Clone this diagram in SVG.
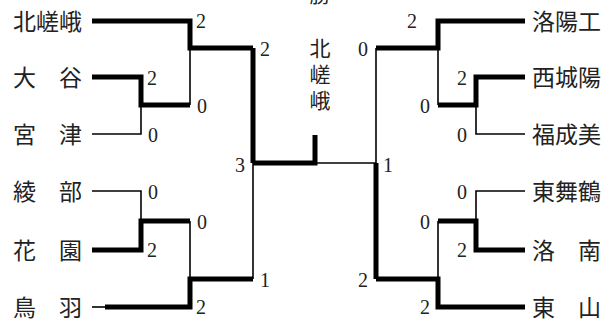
<svg xmlns="http://www.w3.org/2000/svg" width="614" height="322" viewBox="0 0 614 322">
<style>
.thick{fill:none;stroke:#000;stroke-width:5;stroke-linejoin:miter}
.thin{fill:none;stroke:#000;stroke-width:1.6}
.name{font-family:"Noto Sans CJK JP","Noto Sans CJK SC",sans-serif;font-size:23px;fill:#222}
.vt{font-family:"Noto Sans CJK JP","Noto Sans CJK SC",sans-serif;font-size:21px;fill:#222;text-anchor:middle}
.num{font-family:"Liberation Serif",serif;font-size:20px;fill:#222}
</style>
<rect width="614" height="322" fill="#fff"/>
<g id="connectors">
<path class="thick" d="M92,21 H190 V48 H253"/>
<path class="thick" d="M92,77 H141 V105 H190"/>
<path class="thin" d="M92,134 H141 V105"/>
<path class="thin" d="M190,48 V105"/>
<path class="thin" d="M92,191 H141 V221"/>
<path class="thick" d="M92,250 H141 V221 H190"/>
<path class="thin" d="M190,221 V279"/>
<path class="thin" d="M92,307 H106"/>
<path class="thick" d="M105,307 H190 V279 H253"/>
<path class="thick" d="M253,48 V163"/>
<path class="thin" d="M253,163 V279"/>
<path class="thick" d="M253,163 H315 V135"/>
<path class="thin" d="M315,163 H376"/>
<path class="thin" d="M376,48 V163"/>
<path class="thick" d="M376,163 V279"/>
<path class="thick" d="M525,21 H438 V48 H376"/>
<path class="thick" d="M525,77 H476 V105 H438"/>
<path class="thin" d="M525,134 H476 V105"/>
<path class="thin" d="M438,48 V105"/>
<path class="thin" d="M525,191 H476 V221"/>
<path class="thick" d="M525,250 H476 V221 H438"/>
<path class="thin" d="M438,221 V279"/>
<path class="thick" d="M525,307 H438 V279 H376"/>
</g>
<g id="scores">
<text class="num" x="196" y="28">2</text>
<text class="num" x="147" y="85">2</text>
<text class="num" x="197" y="113">0</text>
<text class="num" x="148" y="142">0</text>
<text class="num" x="148" y="199">0</text>
<text class="num" x="197" y="229">0</text>
<text class="num" x="147" y="257">2</text>
<text class="num" x="196" y="314">2</text>
<text class="num" x="260" y="56">2</text>
<text class="num" x="260" y="287">1</text>
<text class="num" x="235" y="172">3</text>
<text class="num" x="383" y="172">1</text>
<text class="num" x="358" y="56">0</text>
<text class="num" x="407" y="28">2</text>
<text class="num" x="457" y="85">2</text>
<text class="num" x="420" y="113">0</text>
<text class="num" x="457" y="142">0</text>
<text class="num" x="457" y="199">0</text>
<text class="num" x="420" y="229">0</text>
<text class="num" x="457" y="257">2</text>
<text class="num" x="358" y="287">2</text>
<text class="num" x="420" y="314">2</text>
</g>
<g id="team-kitasaga"><text class="name" x="13" y="30">北嵯峨</text></g>
<g id="team-otani"><text class="name" x="13" y="86">大　谷</text></g>
<g id="team-miyazu"><text class="name" x="13" y="143">宮　津</text></g>
<g id="team-ayabe"><text class="name" x="13" y="200">綾　部</text></g>
<g id="team-hanazono"><text class="name" x="13" y="259">花　園</text></g>
<g id="team-toba"><text class="name" x="13" y="316">鳥　羽</text></g>
<g id="team-rakuyoko"><text class="name" x="532" y="30">洛陽工</text></g>
<g id="team-nishijoyo"><text class="name" x="532" y="86">西城陽</text></g>
<g id="team-fukuchiyama"><text class="name" x="532" y="143">福成美</text></g>
<g id="team-higashimaizuru"><text class="name" x="532" y="200">東舞鶴</text></g>
<g id="team-rakunan"><text class="name" x="532" y="259">洛　南</text></g>
<g id="team-higashiyama"><text class="name" x="532" y="316">東　山</text></g>
<g id="champion">
<text class="vt" x="320" y="1.5">勝</text>
<text x="320" y="38" writing-mode="vertical-rl" letter-spacing="5" style="font-family:'Noto Sans CJK JP','Noto Sans CJK SC',sans-serif;font-size:21px;fill:#222">北嵯峨</text>
</g>
</svg>
